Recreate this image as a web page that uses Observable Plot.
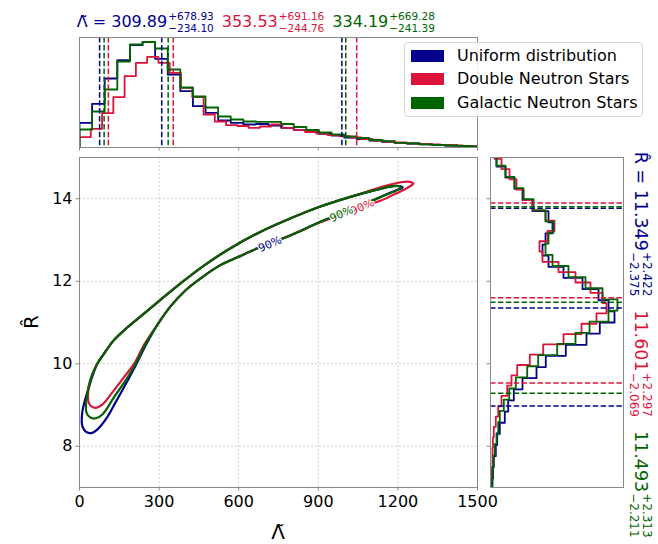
<!DOCTYPE html>
<html><head><meta charset="utf-8">
<script src="https://cdn.jsdelivr.net/npm/d3@7"></script>
<script src="https://cdn.jsdelivr.net/npm/@observablehq/plot@0.6"></script>
<style>
body{margin:0;background:#fff;}
#chart{position:relative;width:658px;height:544px;font-family:"DejaVu Sans",sans-serif;}
#chart > svg{position:absolute;left:0;top:0;overflow:visible;}
</style></head><body><div id="chart"></div>
<script>
// ---------- data ----------
const seriesNames = ["Uniform distribution", "Double Neutron Stars", "Galactic Neutron Stars"];
const seriesColors = ["#00008b", "#dc143c", "#006400"];

const xTicks = [0, 300, 600, 900, 1200, 1500];
const yTicks = [8, 10, 12, 14];

// Lambda-tilde histograms (step outlines), bins start at 0
const lambdaBinStart = [0, 0, 0];
const lambdaBinWidth = [47.5, 42.5, 47.5];
const lambdaHistUniform = [24.7, 43.7, 69, 87.3, 102.3, 105.3, 88.7, 73, 56.3, 41.3, 34.7, 27, 24.7, 23, 23.5, 22, 19.7, 17.3, 15.3, 13.7, 12, 10, 8.5, 7, 5.7, 4.7, 4, 3.2, 2.5, 2, 1.5, 1.2];
const lambdaHistDNS = [10.3, 18.7, 34.3, 50.3, 71.3, 84.7, 90.7, 84.7, 74.7, 59.7, 50.3, 33, 26, 22.3, 21.5, 19.7, 21, 23, 19.7, 17.3, 15.5, 14, 12.5, 11.3, 10, 8.5, 7, 6, 5, 4.2, 3.5, 3, 2.5, 2, 1.7, 1.4];
const lambdaHistGalactic = [18, 36, 58, 86, 103, 105.5, 99, 78, 60, 51, 40, 31, 28, 26, 25.7, 25.7, 23.5, 20.5, 17.5, 15, 13, 11, 9.5, 7.5, 6.3, 4.7, 4, 3.2, 2.5, 2, 1.5, 1.2];

// R-hat histograms
const rBinStart = [6.95, 6.97, 6.97];
const rBinWidth = [0.27, 0.25, 0.27];
const rHistUniform = [2, 2.5, 3.3, 5.3, 6.7, 9.3, 14.3, 17.7, 23.3, 32, 46, 55.3, 75.3, 96, 109.3, 124, 118, 108, 92, 73, 58, 52, 55, 62, 58, 42, 32, 24, 15, 6];
const rHistDNS = [0.5, 1, 2, 2, 2.5, 3.3, 5.3, 7.7, 11, 16.7, 21, 26.7, 39.3, 52.7, 73, 91, 106, 116, 112, 100, 85, 68, 52, 49, 57, 64, 55, 42, 33, 26, 19, 11, 4];
const rHistGalactic = [1.5, 2, 3, 4.3, 6, 7.7, 9.3, 13.3, 18.7, 25.3, 36.7, 47.7, 66.7, 85, 99, 118, 127, 112, 95, 78, 62, 55, 58, 63, 55, 43, 33, 24, 15, 6];

// summary statistics (median, +upper, -lower)
const lambdaMedian = [309.89, 353.53, 334.19];
const lambdaPlus = [678.93, 691.16, 669.28];
const lambdaMinus = [234.10, 244.76, 241.39];
const rMedian = [11.349, 11.601, 11.493];
const rPlus = [2.422, 2.297, 2.313];
const rMinus = [2.375, 2.069, 2.211];

// 90% credible contours [Lambda, R]
const contourUniform = [[9, 8.55], [11, 8.85], [20, 9.1], [35, 9.42], [50, 9.72], [67, 10.0], [92, 10.24], [128, 10.56], [180, 10.88], [242, 11.21], [305, 11.55], [381, 11.95], [469, 12.38], [569, 12.8], [670, 13.16], [783, 13.49], [908, 13.81], [1034, 14.07], [1134, 14.24], [1195, 14.31], [1218, 14.27],
  [1200, 14.22], [1147, 14.08], [1084, 13.9], [1034, 13.77], [971, 13.6], [900, 13.42], [833, 13.22], [745, 12.98], [671, 12.8], [595, 12.58], [531, 12.39], [467, 12.12], [403, 11.8], [343, 11.39], [294, 10.95], [253, 10.49], [215, 10.0], [177, 9.54], [139, 9.1], [102, 8.68], [68, 8.41], [45, 8.32], [25, 8.35], [13, 8.45]];
const contourDNS = [[33, 9.1], [41, 9.59], [67, 10.0], [92, 10.24], [128, 10.56], [180, 10.88], [242, 11.21], [305, 11.55], [381, 11.95], [469, 12.38], [569, 12.8], [670, 13.16], [783, 13.49], [908, 13.81], [1034, 14.07], [1147, 14.3], [1210, 14.4], [1245, 14.41], [1258, 14.37],
  [1235, 14.26], [1197, 14.14], [1134, 13.95], [1084, 13.84], [1034, 13.74], [971, 13.58], [900, 13.41], [833, 13.22], [745, 12.98], [671, 12.8], [595, 12.58], [531, 12.39], [467, 12.12], [403, 11.8], [343, 11.39], [294, 10.95], [246, 10.49], [205, 9.99], [167, 9.67], [123, 9.3], [86, 9.01], [60, 8.93], [42, 8.98]];
const contourGalactic = [[25, 8.85], [29, 9.26], [40, 9.6], [67, 10.0], [92, 10.24], [128, 10.56], [180, 10.88], [242, 11.21], [305, 11.55], [381, 11.95], [469, 12.38], [569, 12.8], [670, 13.16], [783, 13.49], [908, 13.81], [1034, 14.07], [1134, 14.24], [1190, 14.31], [1212, 14.28],
  [1197, 14.21], [1147, 14.07], [1084, 13.9], [1034, 13.77], [971, 13.6], [900, 13.42], [833, 13.22], [745, 12.98], [671, 12.8], [595, 12.58], [531, 12.39], [467, 12.12], [403, 11.8], [343, 11.39], [294, 10.95], [250, 10.49], [211, 9.99], [173, 9.59], [129, 9.18], [86, 8.77], [54, 8.67], [36, 8.72]];
const contourLabel = "90%";
const contourLabelPos = [[718, 12.9], [1066, 13.8], [987, 13.63]];

// ---------- helpers ----------
const lambdaHists = [lambdaHistUniform, lambdaHistDNS, lambdaHistGalactic];
const rHists = [rHistUniform, rHistDNS, rHistGalactic];
const contours = [contourUniform, contourDNS, contourGalactic];

function stepPoints(start, width, counts) {
  const pts = [[start, 0]];
  counts.forEach((c, i) => { pts.push([start + i * width, c], [start + (i + 1) * width, c]); });
  pts.push([start + counts.length * width, 0]);
  return pts;
}
const W = 658, H = 544;
const baseStyle = {background: "transparent", fontFamily: "DejaVu Sans", fontSize: "16px", overflow: "visible"};
const frameColor = "#8a8a8a";
const dash = "5.5,2.4";
const chart = document.getElementById("chart");

// ---------- main joint panel ----------
const mainMarks = [
  Plot.ruleX(xTicks, {stroke: "#c4c4c4", strokeWidth: 0.8, strokeDasharray: "2,2"}),
  Plot.ruleY(yTicks, {stroke: "#c4c4c4", strokeWidth: 0.8, strokeDasharray: "2,2"})
];
contours.forEach((c, i) => {
  mainMarks.push(Plot.line(c, {x: d => d[0], y: d => d[1], curve: "catmull-rom-closed", stroke: seriesColors[i], strokeWidth: 2.2, clip: true}));
});
contourLabelPos.forEach((p, i) => {
  mainMarks.push(Plot.text([p], {x: d => d[0], y: d => d[1], text: () => contourLabel, rotate: -24, fill: seriesColors[i], fontSize: 11, stroke: "white", strokeWidth: 2.5, paintOrder: "stroke"}));
});
mainMarks.push(
  Plot.frame({stroke: frameColor}),
  Plot.axisX(xTicks, {anchor: "bottom", tickSize: 3.5, tickPadding: 4.5, stroke: frameColor, color: "black", fontSize: 16, tickFormat: d3.format("d"), label: null}),
  Plot.axisY(yTicks, {anchor: "left", tickSize: 3.5, tickPadding: 3.5, stroke: frameColor, color: "black", fontSize: 16, tickFormat: d3.format("d"), label: null})
);
chart.append(Plot.plot({
  width: W, height: H, marginLeft: 79, marginRight: 181, marginTop: 157, marginBottom: 57,
  x: {domain: [0, 1500], axis: null}, y: {domain: [7, 15], axis: null},
  style: baseStyle, marks: mainMarks
}));

// ---------- top marginal (Lambda) ----------
const topMarks = [];
lambdaHists.forEach((h, i) => {
  topMarks.push(Plot.line(stepPoints(lambdaBinStart[i], lambdaBinWidth[i], h), {x: d => d[0], y: d => d[1], stroke: seriesColors[i], strokeWidth: 1.8, clip: true}));
});
[0, 1, 2].forEach(i => {
  const q = [lambdaMedian[i] - lambdaMinus[i], lambdaMedian[i], lambdaMedian[i] + lambdaPlus[i]];
  topMarks.push(Plot.ruleX(q, {stroke: seriesColors[i], strokeWidth: 1.5, strokeDasharray: dash}));
});
topMarks.push(
  Plot.frame({stroke: frameColor}),
  Plot.axisX(xTicks, {anchor: "bottom", tickSize: 3.5, tickFormat: () => "", stroke: frameColor, label: null})
);
chart.append(Plot.plot({
  width: W, height: H, marginLeft: 79, marginRight: 181, marginTop: 37, marginBottom: 397,
  x: {domain: [0, 1500], axis: null}, y: {domain: [0, 110], axis: null},
  style: baseStyle, marks: topMarks
}));

// ---------- right marginal (R) ----------
const rightMarks = [];
rHists.forEach((h, i) => {
  rightMarks.push(Plot.line(stepPoints(rBinStart[i], rBinWidth[i], h), {x: d => d[1], y: d => d[0], stroke: seriesColors[i], strokeWidth: 1.8, clip: true}));
});
[0, 1, 2].forEach(i => {
  const q = [rMedian[i] - rMinus[i], rMedian[i], rMedian[i] + rPlus[i]];
  rightMarks.push(Plot.ruleY(q, {stroke: seriesColors[i], strokeWidth: 1.5, strokeDasharray: dash}));
});
rightMarks.push(
  Plot.frame({stroke: frameColor}),
  Plot.axisY(yTicks, {anchor: "left", tickSize: 3.5, tickFormat: () => "", stroke: frameColor, label: null})
);
chart.append(Plot.plot({
  width: W, height: H, marginLeft: 490, marginRight: 35, marginTop: 157, marginBottom: 57,
  x: {domain: [0, 133], axis: null}, y: {domain: [7, 15], axis: null},
  style: baseStyle, marks: rightMarks
}));

// ---------- text overlay ----------
const ov = d3.select(chart).append("svg").attr("width", W).attr("height", H).style("font-family", "DejaVu Sans");
function sciText(x, y, rot, main, sup, sub, color, fMain, fScript, supOff, subOff) {
  const g = ov.append("g").attr("transform", `translate(${x},${y}) rotate(${rot})`).attr("fill", color);
  const t = g.append("text").style("font-size", fMain + "px").text(main);
  const w = t.node().getComputedTextLength();
  const a = g.append("text").attr("x", w + 1).attr("y", supOff).style("font-size", fScript + "px").text(sup);
  const b = g.append("text").attr("x", w + 1).attr("y", subOff).style("font-size", fScript + "px").text(sub);
  return w + 1 + Math.max(a.node().getComputedTextLength(), b.node().getComputedTextLength());
}
let tx = 76.7;
[0, 1, 2].forEach(i => {
  const main = (i === 0 ? "\u039B\u0303 = " : "") + lambdaMedian[i].toFixed(2);
  tx += sciText(tx, 26.7, 0, main, "+" + lambdaPlus[i].toFixed(2), "\u2212" + lambdaMinus[i].toFixed(2), seriesColors[i], 16, 10.5, -6.8, 5) + 8;
});
let ty = 151.7;
[0, 1, 2].forEach(i => {
  const main = (i === 0 ? "R\u0302 = " : "") + rMedian[i].toFixed(3);
  ty += sciText(635, ty, 90, main, "+" + rPlus[i].toFixed(3), "\u2212" + rMinus[i].toFixed(3), seriesColors[i], 17.5, 12, -7.5, 5.5) + 14;
});
ov.append("text").attr("x", 278).attr("y", 539).attr("text-anchor", "middle").style("font-size", "20px").text("\u039B\u0303");
const yl = ov.append("text").attr("transform", "translate(38,322) rotate(-90)").style("font-size", "20px").text("R\u0302");
yl.attr("x", -yl.node().getComputedTextLength() / 2);

// ---------- legend ----------
const leg = document.createElement("div");
leg.style.cssText = "position:absolute;left:404px;top:42px;width:239px;height:75px;box-sizing:border-box;border:1px solid #d6d6d6;border-radius:4px;background:rgba(255,255,255,0.85);font-family:'DejaVu Sans';font-size:16px;color:#000;";
seriesNames.forEach((name, i) => {
  const row = document.createElement("div");
  row.style.cssText = `position:absolute;left:0;top:${6 + i * 23.4}px;height:14px;width:100%;`;
  const sw = document.createElement("div");
  sw.style.cssText = `position:absolute;left:6px;top:1px;width:33px;height:12px;background:${seriesColors[i]};`;
  const lb = document.createElement("div");
  lb.style.cssText = "position:absolute;left:52px;top:-3px;line-height:19px;white-space:nowrap;";
  lb.textContent = name;
  row.append(sw, lb);
  leg.append(row);
});
chart.append(leg);
</script></body></html>
